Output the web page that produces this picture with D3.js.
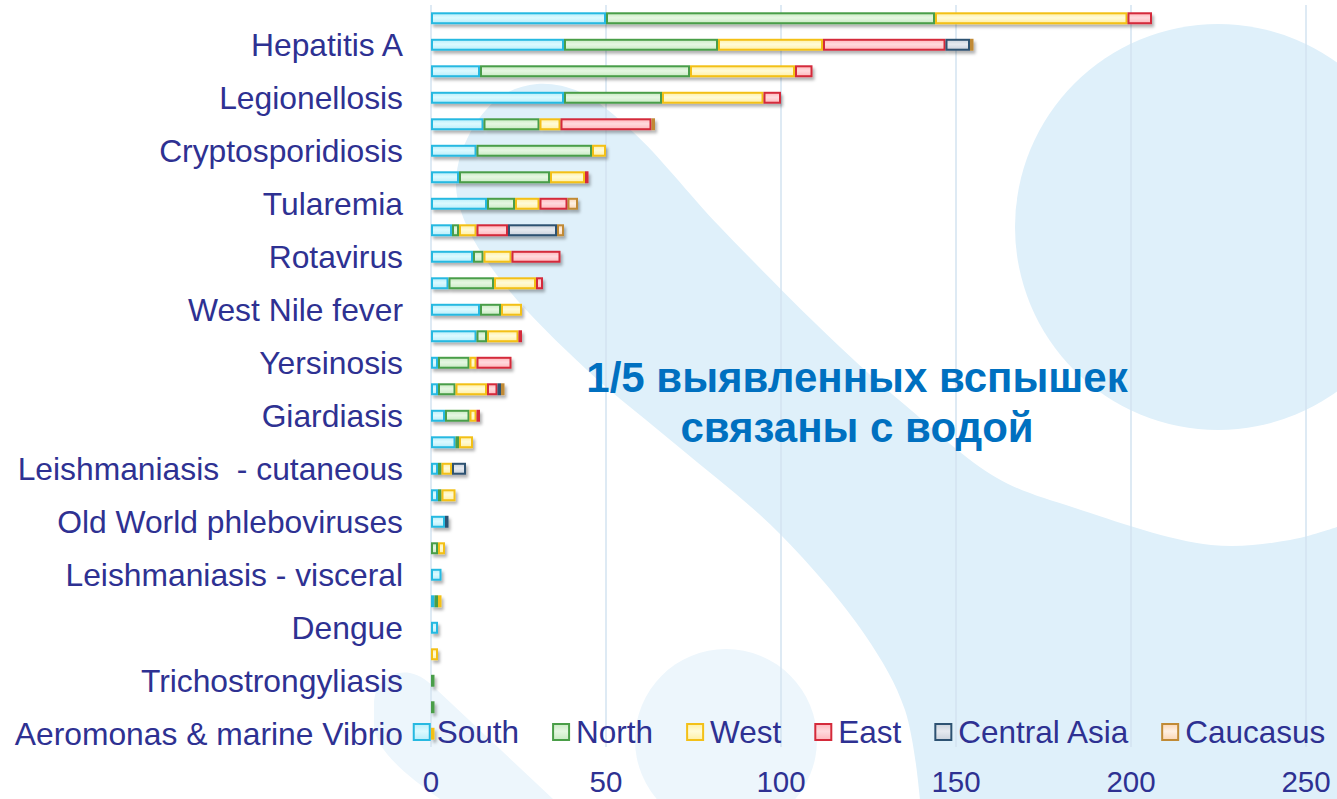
<!DOCTYPE html>
<html><head><meta charset="utf-8">
<script src="https://cdn.jsdelivr.net/npm/d3@7"></script>
<style>
body{margin:0;background:#fff;}
svg{display:block;font-family:"Liberation Sans",Arial,sans-serif;}
</style>
</head><body>
<svg id="chart" width="1337" height="799"></svg>
<script>
// ---------- data ----------
const categories = d3.range(28);
const labels = ["", "Hepatitis A", "", "Legionellosis", "", "Cryptosporidiosis", "", "Tularemia",
  "", "Rotavirus", "", "West Nile fever", "", "Yersinosis", "", "Giardiasis", "",
  "Leishmaniasis\u00a0\u00a0- cutaneous", "", "Old World phleboviruses", "", "Leishmaniasis - visceral",
  "", "Dengue", "", "Trichostrongyliasis", "", "Aeromonas & marine Vibrio"];
const seriesNames = ["South", "North", "West", "East", "Central Asia", "Caucasus"];
const south  = [50,38,14,38,15,13,8,16,6,12,5,14,13,2,2,4,7,2,2,4,0,3,1,2,0,0,0,0];
const north  = [94,44,60,28,16,33,26,8,2,3,13,6,3,9,5,7,1,1,1,0,2,0,1,0,0,1,1,0];
const west   = [55,30,30,29,6,4,10,7,5,8,12,6,9,2,9,2,4,3,4,0,2,0,1,0,2,0,0,1];
const east   = [7,35,5,5,26,0,1,8,9,14,2,0,1,10,3,1,0,0,0,0,0,0,0,0,0,0,0,0];
const centralAsia = [0,7,0,0,0,0,0,0,14,0,0,0,0,0,1,0,0,4,0,1,0,0,0,0,0,0,0,0];
const caucasus    = [0,1,0,0,1,0,0,3,2,0,0,0,0,0,1,0,0,0,0,0,0,0,0,0,0,0,0,0];
const xTicks = [0, 50, 100, 150, 200, 250];
const annotation = ["1/5 выявленных вспышек", "связаны с водой"];

// ---------- styles ----------
const strokeCol = {"South":"#27b9e1","North":"#4a9e48","West":"#f3c018","East":"#d42a3a","Central Asia":"#2d5272","Caucasus":"#c08a35"};
const fillTop   = {"South":"#dcfaff","North":"#e6f7e2","West":"#fffbd8","East":"#ffdadd","Central Asia":"#e6eaf0","Caucasus":"#fff0e2"};
const fillBot   = {"South":"#b9eefa","North":"#c9ebc4","West":"#fff0a6","East":"#ffb8bd","Central Asia":"#cad2dc","Caucasus":"#fbd6b4"};
const textCol = "#2e3192";

const svg = d3.select("#chart");
const defs = svg.append("defs");
seriesNames.forEach((s,i)=>{
  const g = defs.append("linearGradient").attr("id","g"+i).attr("x1",0).attr("y1",0).attr("x2",0).attr("y2",1);
  g.append("stop").attr("offset","0%").attr("stop-color",fillBot[s]);
  g.append("stop").attr("offset","45%").attr("stop-color",fillTop[s]);
  g.append("stop").attr("offset","100%").attr("stop-color",fillBot[s]);
});
const f = defs.append("filter").attr("id","shadow").attr("x","-5%").attr("y","-50%").attr("width","120%").attr("height","250%");
f.append("feDropShadow").attr("dx",2).attr("dy",3).attr("stdDeviation",1.6).attr("flood-color","#000").attr("flood-opacity",0.3);

// ---------- background decoration ----------
const bgMain = "#dff0fa", bgLight = "#edf6fc";
const bg = svg.append("g");
const swoosh = [[920,799],[905,710],[865,635],[779,533],[680,448],[587,370],[503,283],[465,222],[456,180],[470,133],[500,97],[537,84],[580,92],[633,132],[720,227],[840,347],[905,405],[997,478],[1075,508],[1211,545],[1290,540],[1337,527]];
bg.append("path").attr("fill",bgMain)
  .attr("d", d3.line().curve(d3.curveCatmullRom)(swoosh) + "L1337,799Z");
bg.append("circle").attr("cx",1218).attr("cy",227).attr("r",203).attr("fill",bgMain);
bg.append("circle").attr("cx",726).attr("cy",740).attr("r",91).attr("fill",bgLight);
bg.append("path").attr("fill",bgLight)
  .attr("d","M374,705 C374,682 390,670 410,673 C420,675 428,681 436,689 L553,799 L440,799 C405,775 374,748 374,725 Z");

// ---------- scales ----------
const x = d3.scaleLinear().domain([0,250]).range([431,1306]);
const y = d3.scaleBand().domain(categories).range([5,747]).paddingInner(0.55).paddingOuter(0.275);

// grid
svg.append("g").selectAll("line").data(xTicks).join("line")
  .attr("x1",d=>x(d)).attr("x2",d=>x(d)).attr("y1",5).attr("y2",747)
  .attr("stroke","#d3e3f0").attr("stroke-width",1.5);

// bars
const table = categories.map(i=>({i, "South":south[i],"North":north[i],"West":west[i],"East":east[i],"Central Asia":centralAsia[i],"Caucasus":caucasus[i]}));
const stacked = d3.stack().keys(seriesNames)(table);
const barsG = svg.append("g").attr("filter","url(#shadow)");
stacked.forEach((layer,si)=>{
  barsG.append("g").selectAll("rect").data(layer.filter(d=>d[1]-d[0]>0)).join("rect")
    .attr("x",d=>x(d[0])+1).attr("width",d=>Math.max(0,x(d[1])-x(d[0])-2))
    .attr("y",d=>y(d.data.i)+1).attr("height",y.bandwidth()-2)
    .attr("fill","url(#g"+si+")").attr("stroke",strokeCol[layer.key]).attr("stroke-width",2);
});

// category labels
svg.append("g").selectAll("text").data(categories.filter(i=>labels[i])).join("text")
  .attr("x",403).attr("y",i=>y(i)+y.bandwidth()/2).attr("dy","0.355em")
  .attr("text-anchor","end").attr("font-size",31.8).attr("fill",textCol)
  .text(i=>labels[i]);

// x tick labels
svg.append("g").selectAll("text").data(xTicks).join("text")
  .attr("x",d=>x(d)).attr("y",792).attr("text-anchor","middle")
  .attr("font-size",29.5).attr("fill",textCol).text(d=>d);

// legend
const leg = svg.append("g");
let lx = 0;
seriesNames.forEach((s,i)=>{
  const g = leg.append("g");
  g.append("rect").attr("x",1).attr("y",-8).attr("width",16).attr("height",16)
    .attr("fill","url(#g"+i+")").attr("stroke",strokeCol[s]).attr("stroke-width",2);
  const t = g.append("text").attr("x",24).attr("y",0).attr("dy","0.355em")
    .attr("font-size",31.5).attr("fill",textCol).text(s);
  const w = 24 + t.node().getComputedTextLength();
  g.attr("transform",`translate(${lx},0)`);
  lx += w + 33;
});
const legW = lx - 33;
leg.attr("transform",`translate(${869 - legW/2},732)`);

// annotation
svg.append("g").selectAll("text").data(annotation).join("text")
  .attr("x",857).attr("y",(d,i)=>392 + i*50).attr("text-anchor","middle")
  .attr("font-size",42).attr("font-weight","bold").attr("fill","#0070c0").text(d=>d);
</script>
</body></html>
